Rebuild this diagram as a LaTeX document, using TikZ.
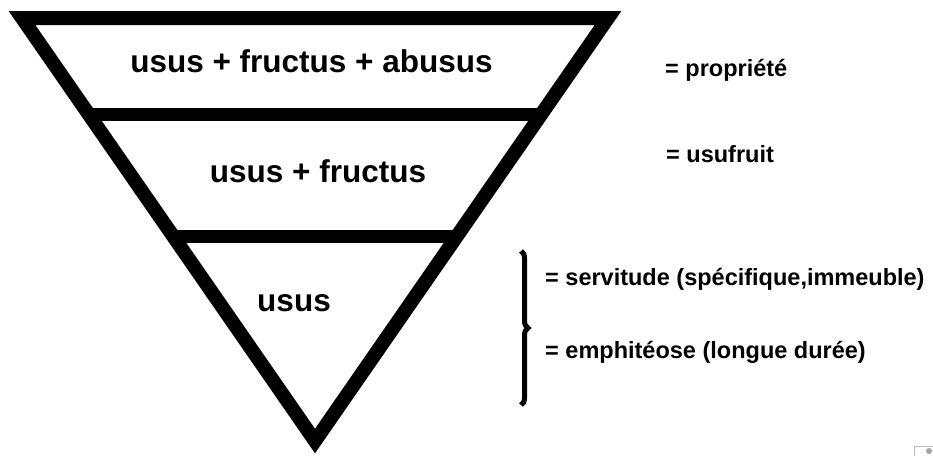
\documentclass[tikz,border=0pt]{standalone}
\usepackage{fontspec}
\setmainfont{Liberation Sans}
\usetikzlibrary{calc,decorations.pathreplacing}
\begin{document}
\begin{tikzpicture}[x=1pt,y=1pt,
  big/.style={inner sep=0pt,anchor=base,font=\fontsize{31.5}{36}\selectfont\bfseries},
  side/.style={inner sep=0pt,anchor=base west,font=\fontsize{23.5}{28}\selectfont\bfseries},
  frame/.style={line width=14pt,line join=miter},
  bar/.style={line width=13pt}]
\useasboundingbox (0,0) rectangle (933,-456);
\fill[white] (0,0) rectangle (933,-456);
% triangle
\coordinate (TL) at (22,-18);
\coordinate (TR) at (608,-18);
\coordinate (AP) at (315,-441);
\draw[frame] (TL) -- (TR) -- (AP) -- cycle;
% bars
\coordinate (L1) at ($(TL)!0.2293!(AP)$);
\coordinate (R1) at ($(TR)!0.2293!(AP)$);
\coordinate (L2) at ($(TL)!0.5177!(AP)$);
\coordinate (R2) at ($(TR)!0.5177!(AP)$);
\draw[bar] (L1) -- (R1);
\draw[bar] (L2) -- (R2);
% labels inside
\node[big] (t1) at (311.5,-72) {usus + fructus + abusus};
\node[big] (t2) at (318,-182) {usus + fructus};
\node[big] (t3) at (294,-311) {usus};
% right labels
\node[side] (r1) at (665,-76) {= propriété};
\node[side] (r2) at (666,-162) {= usufruit};
\node[side] (r3) at (545,-285) {= servitude (spécifique,immeuble)};
\node[side] (r4) at (545,-358) {= emphitéose (longue durée)};
% brace
\coordinate (B1) at (521,-251);
\coordinate (B2) at (521,-405);
\draw[line width=5pt,decorate,decoration={brace,amplitude=7pt,aspect=0.5}] (B1) -- (B2);
% small corner artifact
\draw[gray!50,line width=0.8pt] (914.5,-456) -- (914.5,-446.5) -- (933,-446.5);
\fill[gray!70] (929,-451) circle (3pt);
\end{tikzpicture}
\end{document}
